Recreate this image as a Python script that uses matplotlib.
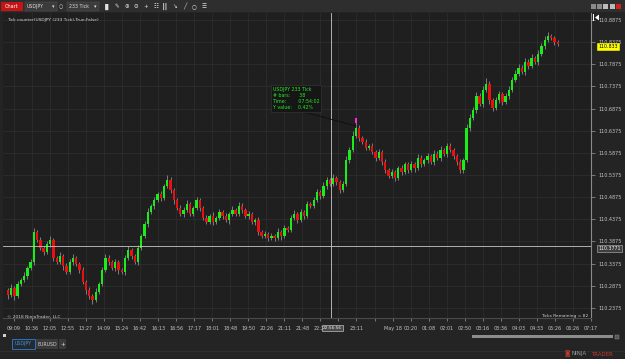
import numpy as np
import matplotlib
matplotlib.use('Agg')
import matplotlib.pyplot as plt
from matplotlib.patches import Rectangle
from matplotlib.lines import Line2D

W, H = 625, 359

# ---- data (pips above 110.00) ----
first_open_pips = 27.8
close_pips = [
    26.7, 28.3, 26.4, 29.2, 30.1, 31.0, 32.8, 34.1, 40.9, 39.1,
    37.3, 36.4, 38.2, 39.1, 35.0, 34.1, 35.5, 33.2, 31.9, 34.1,
    35.0, 33.7, 32.3, 29.6, 27.8, 26.4, 25.5, 27.4, 29.2, 32.3,
    35.0, 34.1, 32.8, 34.1, 32.3, 31.9, 35.0, 36.8, 35.5, 34.1,
    37.3, 40.0, 42.7, 45.4, 46.8, 48.1, 49.5, 48.6, 51.3, 52.6,
    50.4, 48.1, 46.3, 45.0, 45.9, 47.2, 45.0, 46.3, 48.1, 46.3,
    44.1, 43.2, 44.5, 43.2, 44.1, 45.4, 44.5, 43.6, 45.0, 45.9,
    45.0, 46.8, 45.9, 44.5, 45.0, 43.2, 43.6, 40.9, 40.0, 40.5,
    39.5, 40.0, 39.5, 40.9, 40.0, 41.8, 41.4, 44.1, 45.0, 43.6,
    45.4, 44.5, 47.2, 46.8, 48.1, 49.9, 49.0, 51.3, 52.6, 51.7,
    53.1, 52.2, 50.4, 51.7, 57.1, 59.4, 62.6, 64.4, 62.1, 61.2,
    59.9, 60.3, 58.9, 57.6, 58.9, 56.7, 54.9, 53.5, 54.4, 53.1,
    55.3, 54.4, 56.2, 54.9, 56.2, 55.3, 57.6, 56.2, 57.1, 58.0,
    56.7, 58.5, 57.6, 59.4, 58.5, 60.3, 59.4, 58.0, 56.7, 54.9,
    57.1, 64.4, 66.6, 68.4, 71.6, 69.8, 72.9, 74.3, 70.7, 68.9,
    70.7, 72.0, 70.2, 71.6, 72.9, 75.2, 76.6, 77.9, 77.0, 79.3,
    78.4, 80.2, 79.3, 81.1, 82.9, 84.2, 85.1, 84.7, 83.8, 83.3,
]
upper_wick = [
    0.5, 0.9, 0.4, 0.7, 0.5, 0.8, 0.4, 0.6, 0.9, 0.5,
    0.7, 0.4, 0.6, 0.9, 0.5, 0.4, 0.8, 0.5, 0.6, 0.7,
    0.9, 0.5, 0.4, 0.6, 0.5, 0.7, 0.4, 0.8, 0.5, 0.6,
    0.9, 0.6, 0.4, 0.7, 0.5, 0.4, 0.6, 0.9, 0.5, 0.4,
    0.6, 0.5, 0.7, 0.8, 0.5, 0.6, 0.4, 0.7, 0.5, 1.1,
    0.6, 0.4, 0.5, 0.7, 0.6, 0.9, 0.4, 0.5, 0.7, 0.5,
    0.4, 0.6, 0.5, 0.8, 0.4, 0.7, 0.5, 0.6, 0.4, 0.8,
    0.5, 0.9, 0.6, 0.4, 0.7, 0.5, 0.4, 0.6, 0.5, 0.7,
    0.4, 0.6, 0.5, 0.8, 0.4, 0.6, 0.5, 0.7, 0.9, 0.4,
    0.6, 0.5, 0.8, 0.4, 0.7, 0.6, 0.5, 0.9, 0.7, 0.5,
    0.8, 0.5, 0.4, 0.6, 0.9, 0.7, 1.0, 2.2, 0.6, 0.5,
    0.7, 0.5, 0.6, 0.4, 0.8, 0.5, 0.6, 0.4, 0.7, 0.5,
    0.6, 0.8, 0.5, 0.4, 0.7, 0.5, 0.9, 0.6, 0.4, 0.7,
    0.5, 0.8, 0.6, 0.9, 0.5, 0.7, 0.6, 0.4, 0.5, 0.6,
    0.5, 0.8, 0.9, 0.6, 1.0, 0.7, 0.9, 1.4, 0.6, 0.5,
    0.7, 0.8, 0.5, 0.6, 0.9, 0.7, 0.8, 1.0, 0.6, 0.9,
    0.7, 0.9, 0.5, 0.8, 0.7, 0.9, 0.9, 0.6, 0.5, 0.4,
]
lower_wick = [
    1.0, 0.5, 0.8, 0.4, 0.6, 0.5, 0.7, 0.4, 0.6, 0.5,
    0.4, 0.8, 0.5, 0.6, 0.7, 0.5, 0.4, 0.9, 0.6, 0.5,
    0.6, 0.4, 0.7, 0.5, 0.8, 0.6, 0.9, 0.5, 0.4, 0.6,
    0.5, 0.7, 0.4, 0.6, 0.8, 0.5, 0.7, 0.4, 0.6, 0.5,
    0.7, 0.5, 0.4, 0.6, 0.5, 0.7, 0.4, 0.6, 0.5, 0.4,
    0.6, 0.8, 0.5, 0.4, 0.7, 0.5, 0.6, 0.4, 0.5, 0.7,
    0.5, 0.6, 0.4, 0.7, 0.5, 0.4, 0.6, 0.5, 0.8, 0.4,
    0.6, 0.5, 0.7, 0.4, 0.6, 0.5, 0.8, 0.6, 0.5, 0.4,
    0.7, 0.5, 0.6, 0.4, 0.8, 0.5, 0.6, 0.4, 0.5, 0.6,
    0.4, 0.7, 0.5, 0.6, 0.4, 0.5, 0.7, 0.4, 0.6, 0.5,
    0.5, 0.6, 0.8, 0.4, 0.5, 0.6, 0.4, 0.5, 0.7, 0.5,
    0.6, 0.4, 0.5, 0.7, 0.5, 0.6, 0.8, 0.5, 0.4, 0.6,
    0.5, 0.7, 0.4, 0.6, 0.5, 0.8, 0.4, 0.6, 0.5, 0.7,
    0.4, 0.6, 0.5, 0.7, 0.4, 0.6, 0.5, 0.7, 0.6, 0.8,
    0.6, 0.5, 0.7, 0.4, 0.6, 0.5, 0.7, 0.5, 0.8, 0.6,
    0.5, 0.6, 0.7, 0.4, 0.6, 0.5, 0.4, 0.6, 0.5, 0.7,
    0.6, 0.4, 0.5, 0.7, 0.5, 0.6, 0.4, 0.5, 0.6, 0.4,
]
time_labels = ["09:09", "10:36", "12:05", "12:55", "13:27", "14:09", "15:24",
               "16:42", "16:13", "16:56", "17:17", "18:01", "18:48", "19:50",
               "20:26", "21:11", "21:48", "22:28", "", "23:11", "", "May 18",
               "00:20", "01:08", "02:01", "02:50", "03:16", "03:36", "04:03",
               "04:33", "05:26", "06:26", "07:17"]
price_ticks = [110.8875, 110.8375, 110.7875, 110.7375, 110.6875, 110.6375,
               110.5875, 110.5375, 110.4875, 110.4375, 110.3875, 110.3375,
               110.2875, 110.2375]
cross_price = 110.3771
cross_bar = 99.4
cross_time = "22:56:56"
marked_bar = 107
info_lines = ["USDJPY 233 Tick", "# bars:      38", "Time:        07:54:02", "Y value:    0.42%"]

base = 110.0
closes = base + np.array(close_pips) / 100
opens = np.concatenate([[base + first_open_pips / 100], closes[:-1]])
highs = np.maximum(opens, closes) + np.array(upper_wick) / 100
lows = np.minimum(opens, closes) - np.array(lower_wick) / 100
n = len(closes)
xb = np.arange(n)

plt.rcParams['font.family'] = ['DejaVu Sans']
fig = plt.figure(figsize=(W / 100, H / 100), dpi=100, facecolor='#242424')


def fx(px):
    return px / W


def fy(py):
    return 1 - py / H


YMIN, YMAX = 110.2148, 110.9033

# ---- main price panel ----
ax = fig.add_axes([fx(3), fy(318), fx(591) - fx(3), fy(13) - fy(318)])
ax.set_facecolor('#1f1f1f')
ax.set_xlim(-1.5, 176.7)
ax.set_ylim(YMIN, YMAX)

tick_pos = 1.8 + 5.545 * np.arange(len(time_labels))
for t in tick_pos:
    ax.axvline(t, color='#2f2f2f', lw=0.5, zorder=0)
for p in price_ticks:
    ax.axhline(p, color='#2f2f2f', lw=0.5, zorder=0)

up = closes >= opens
colors = np.where(up, '#1aee1a', '#e81010')
ax.vlines(xb, lows, highs, color='#8c8c8c', lw=0.6, zorder=2)
body_h = np.maximum(np.abs(closes - opens), 0.0004)
ax.bar(xb, body_h, bottom=np.minimum(opens, closes), width=0.72,
       color=colors, linewidth=0, zorder=3)
# highlighted bar top
ax.bar(marked_bar, 0.012, bottom=highs[marked_bar] - 0.012, width=0.72,
       color='#ff2bd6', linewidth=0, zorder=4)

# crosshair
ax.axhline(cross_price, color='#c8c8c8', lw=0.6, zorder=5)
ax.axvline(cross_bar, color='#c8c8c8', lw=0.6, zorder=5)

ax.set_xticks(tick_pos)
ax.set_xticklabels(time_labels)
ax.set_yticks(price_ticks)
ax.set_yticklabels([f"{p:.4f}" for p in price_ticks])
ax.yaxis.tick_right()
ax.tick_params(axis='x', colors='#9a9a9a', labelcolor='#c4c4c4', labelsize=3.5,
               length=2.5, width=0.5, pad=3.5)
ax.tick_params(axis='y', colors='#9a9a9a', labelcolor='#c4c4c4', labelsize=3.5,
               length=3, width=0.5, pad=2.5)
for s in ['top', 'left']:
    ax.spines[s].set_visible(False)
ax.spines['right'].set_color('#8a8a8a')
ax.spines['right'].set_linewidth(0.8)
ax.spines['bottom'].set_color('#4a4a4a')
ax.spines['bottom'].set_linewidth(0.8)

# crosshair labels
ax.text(1.012, (cross_price - YMIN) / (YMAX - YMIN), f"{cross_price:.4f}",
        transform=ax.transAxes, fontsize=3.4, color='#eeeeee', va='top', ha='left',
        bbox=dict(boxstyle='square,pad=0.25', fc='#3e3e3e', ec='#bdbdbd', lw=0.4), zorder=10)
ax.text(cross_bar + 0.4, YMIN - 0.022, cross_time, fontsize=3.1, color='#eeeeee',
        ha='center', va='center', clip_on=False,
        bbox=dict(boxstyle='square,pad=0.2', fc='#4a4a4a', ec='#dddddd', lw=0.4), zorder=10)
# current price marker
ax.text(1.012, (closes[-1] - YMIN) / (YMAX - YMIN), f"{closes[-1]:.3f}",
        transform=ax.transAxes, fontsize=3.4, color='#000000', va='top', ha='left',
        bbox=dict(boxstyle='square,pad=0.25', fc='#ffff00', ec='#ffff00', lw=0.4), zorder=10)

# info box and connector
fig.add_artist(Line2D([fx(300), fx(356)], [fy(111), fy(126)], color='#0d0d0d', lw=0.6))
fig.text(fx(273), fy(87), "\n".join(info_lines), fontsize=3.4, color='#27e827',
         va='top', ha='left', linespacing=1.25,
         bbox=dict(boxstyle='square,pad=0.35', fc='#161616', ec='#3a3a3a', lw=0.4))

fig.text(fx(7), fy(20), "Tick counter(USDJPY (233 Tick),True,False)", fontsize=3.2,
         color='#d8d8d8', va='center')
fig.text(fx(7), fy(317), "\u00a9 2018 NinjaTrader, LLC", fontsize=3.2, color='#cfcfcf', va='center')
fig.text(fx(588), fy(316), "Ticks Remaining = 82", fontsize=3.2, color='#d0d0d0',
         va='center', ha='right')

# ---- top toolbar ----
fig.add_artist(Rectangle((0, fy(12)), 1, fy(0) - fy(12), transform=fig.transFigure,
                         fc='#2e2e2e', ec='none'))
fig.add_artist(Rectangle((fx(1), fy(11)), fx(22), fy(2) - fy(11), transform=fig.transFigure,
                         fc='#c41414', ec='none'))
fig.text(fx(12), fy(6.5), "Chart", fontsize=3.6, color='white', ha='center', va='center')
fig.add_artist(Rectangle((fx(25), fy(11)), fx(32), fy(2) - fy(11), transform=fig.transFigure,
                         fc='#3b3b3b', ec='#555555', lw=0.3))
fig.text(fx(27), fy(6.5), "USDJPY", fontsize=3.4, color='#dddddd', va='center')
fig.text(fx(53), fy(6.5), "\u25be", fontsize=3.6, color='#dddddd', va='center', ha='center')
fig.text(fx(61), fy(6.5), "\u25cb", fontsize=3.6, color='#dddddd', va='center', ha='center')
fig.add_artist(Rectangle((fx(67), fy(11)), fx(32), fy(2) - fy(11), transform=fig.transFigure,
                         fc='#3b3b3b', ec='#555555', lw=0.3))
fig.text(fx(69), fy(6.5), "233 Tick", fontsize=3.4, color='#dddddd', va='center')
fig.text(fx(95), fy(6.5), "\u25be", fontsize=3.6, color='#dddddd', va='center', ha='center')
icons = ["\u2590\u258c", "\u270e", "\u2295", "\u2296", "+", "\u2637", "\u2503\u2503", "\u2198",
         "\u2571", "\u25cb", "\u2630"]
for i, ic in enumerate(icons):
    fig.text(fx(107 + i * 9.7), fy(6.5), ic, fontsize=4, color='#e0e0e0', va='center', ha='center')
for i, c in enumerate(['#8a8a8a', '#8a8a8a', '#bbbbbb', '#bbbbbb', '#d02020']):
    fig.add_artist(Rectangle((fx(591 + i * 6.2), fy(9)), fx(5), fy(4) - fy(9),
                             transform=fig.transFigure, fc=c, ec='none'))
# scroll-to-end icon (drawn shape)
fig.add_artist(Rectangle((fx(593), fy(21)), fx(1.2), fy(14) - fy(21), transform=fig.transFigure,
                         fc='white', ec='none'))
fig.add_artist(plt.Polygon([[fx(595), fy(17.5)], [fx(599), fy(14.5)], [fx(599), fy(20.5)]],
                           closed=True, transform=fig.transFigure, fc='white', ec='none'))

# ---- bottom area ----
fig.add_artist(Rectangle((fx(3), fy(337)), fx(3), fy(334) - fy(337), transform=fig.transFigure,
                         fc='#cfcfcf', ec='none'))
fig.add_artist(Rectangle((fx(472), fy(338)), fx(141), fy(335) - fy(338), transform=fig.transFigure,
                         fc='#8d8d8d', ec='none'))
fig.add_artist(Rectangle((fx(615), fy(338.5)), fx(4), fy(334.5) - fy(338.5), transform=fig.transFigure,
                         fc='#555555', ec='#999999', lw=0.3))
fig.add_artist(Rectangle((fx(12), fy(349)), fx(23), fy(339) - fy(349), transform=fig.transFigure,
                         fc='#262a30', ec='#2f7fd0', lw=0.6))
fig.text(fx(23.5), fy(344), "USDJPY", fontsize=3.4, color='#3d95e0', va='center', ha='center')
fig.add_artist(Rectangle((fx(36), fy(349)), fx(22), fy(339) - fy(349), transform=fig.transFigure,
                         fc='#3a3a3a', ec='none'))
fig.text(fx(47), fy(344), "EURUSD", fontsize=3.4, color='#cccccc', va='center', ha='center')
fig.add_artist(Rectangle((fx(59), fy(349)), fx(7), fy(339) - fy(349), transform=fig.transFigure,
                         fc='#3a3a3a', ec='none'))
fig.text(fx(62.5), fy(344), "+", fontsize=4, color='#dddddd', va='center', ha='center')
fig.add_artist(Line2D([0, 1], [fy(351), fy(351)], color='#303030', lw=0.6))
fig.text(fx(572), fy(354), "NINJA", fontsize=4, color='#9a9a9a', va='center', ha='left')
fig.text(fx(591), fy(354), "TRADER", fontsize=4, color='#c23a2a', va='center', ha='left')
fig.text(fx(567), fy(354), "\u25d9", fontsize=4, color='#c23a2a', va='center', ha='center')

fig.savefig('out.png', dpi=100, facecolor=fig.get_facecolor())
